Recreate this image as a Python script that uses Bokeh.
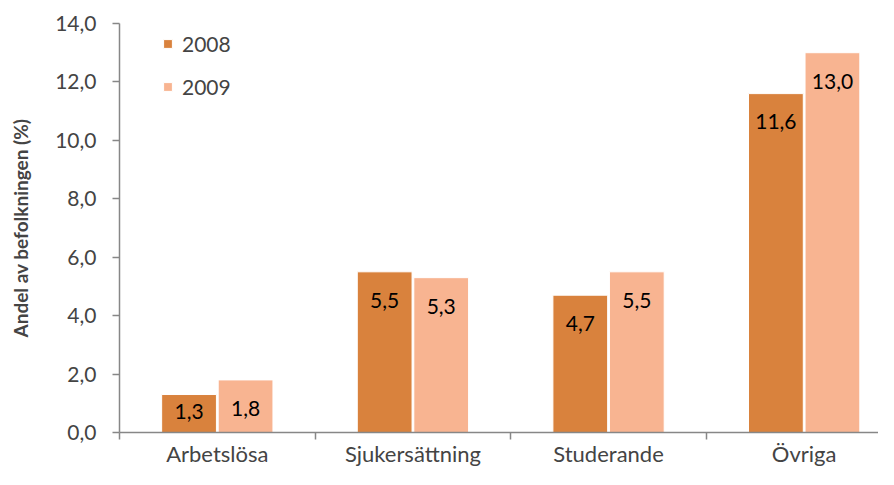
from bokeh.plotting import figure
from bokeh.models import Range1d, FixedTicker, Legend, LegendItem, ColumnDataSource
from bokeh.core.properties import value
from bokeh.embed import file_html
from bokeh.resources import INLINE

categories = ["Arbetslösa", "Sjukersättning", "Studerande", "Övriga"]
series_2008 = [1.3, 5.5, 4.7, 11.6]
series_2009 = [1.8, 5.3, 5.5, 13.0]
y_ticks = [0, 2, 4, 6, 8, 10, 12, 14]
y_tick_labels = ["0,0", "2,0", "4,0", "6,0", "8,0", "10,0", "12,0", "14,0"]
years = ["2008", "2009"]
colors = ["#D9823D", "#F8B491"]

FONT = "Lato"
AXIS_GREY = "#878787"

p = figure(width=878, height=469, output_backend="svg", toolbar_location=None,
           x_range=Range1d(0, 3.88), y_range=Range1d(0, 14),
           min_border_left=119, min_border_right=0, min_border_top=23, min_border_bottom=36)
p.outline_line_color = None
p.xgrid.visible = False
p.ygrid.visible = False

offset = 0.1445
width = 0.28
items = []
for k, (vals, col, yr) in enumerate(zip([series_2008, series_2009], colors, years)):
    xs = [i + 0.5 + (offset if k else -offset) for i in range(len(categories))]
    labels = [f"{v:.1f}".replace(".", ",") for v in vals]
    ly = [max(v - 0.97, 0.72) for v in vals]
    src = ColumnDataSource(dict(x=xs, top=vals, label=labels, ly=ly))
    r = p.vbar(x="x", top="top", width=width, source=src, fill_color=col,
               line_color="white", line_width=1)
    p.text(x="x", y="ly", text="label", source=src, text_align="center",
           text_baseline="middle", text_font=value(FONT), text_font_size="21px",
           text_color="black")
    items.append(LegendItem(label=yr, renderers=[r]))

legend = Legend(items=items, location=(43, 333), orientation="vertical",
                glyph_width=11, glyph_height=11, label_text_font=FONT,
                label_text_font_size="21px", spacing=18, padding=0, margin=0,
                label_standoff=9, border_line_color=None, background_fill_alpha=0)
p.add_layout(legend, "center")

# y axis
p.yaxis.ticker = FixedTicker(ticks=y_ticks, minor_ticks=[])
p.yaxis.major_label_overrides = {t: l for t, l in zip(y_ticks, y_tick_labels)}
p.yaxis.axis_label = "Andel av befolkningen (%)"
p.yaxis.axis_label_text_font = FONT
p.yaxis.axis_label_text_font_style = "bold"
p.yaxis.axis_label_text_font_size = "19px"
p.yaxis.axis_label_standoff = 20
p.yaxis.major_label_text_font = FONT
p.yaxis.major_label_text_font_size = "21px"
p.yaxis.major_label_standoff = 16
p.yaxis.major_tick_in = 0
p.yaxis.major_tick_out = 7
p.yaxis.minor_tick_line_color = None
p.yaxis.axis_line_color = AXIS_GREY
p.yaxis.major_tick_line_color = AXIS_GREY
p.yaxis.axis_line_width = 1.5
p.yaxis.major_tick_line_width = 1.5

# x axis
centers = [i + 0.5 for i in range(len(categories))]
p.xaxis.ticker = FixedTicker(ticks=centers, minor_ticks=list(range(len(categories) + 1)))
p.xaxis.major_label_overrides = {c: n for c, n in zip(centers, categories)}
p.xaxis.major_tick_line_color = None
p.xaxis.major_tick_out = 0
p.xaxis.major_tick_in = 0
p.xaxis.minor_tick_in = 0
p.xaxis.minor_tick_out = 7
p.xaxis.minor_tick_line_color = AXIS_GREY
p.xaxis.minor_tick_line_width = 1.5
p.xaxis.axis_line_color = AXIS_GREY
p.xaxis.axis_line_width = 1.5
p.xaxis.major_label_text_font = FONT
p.xaxis.major_label_text_font_size = "22px"
p.xaxis.major_label_standoff = 0

open("out.html", "w").write(file_html(p, INLINE))
